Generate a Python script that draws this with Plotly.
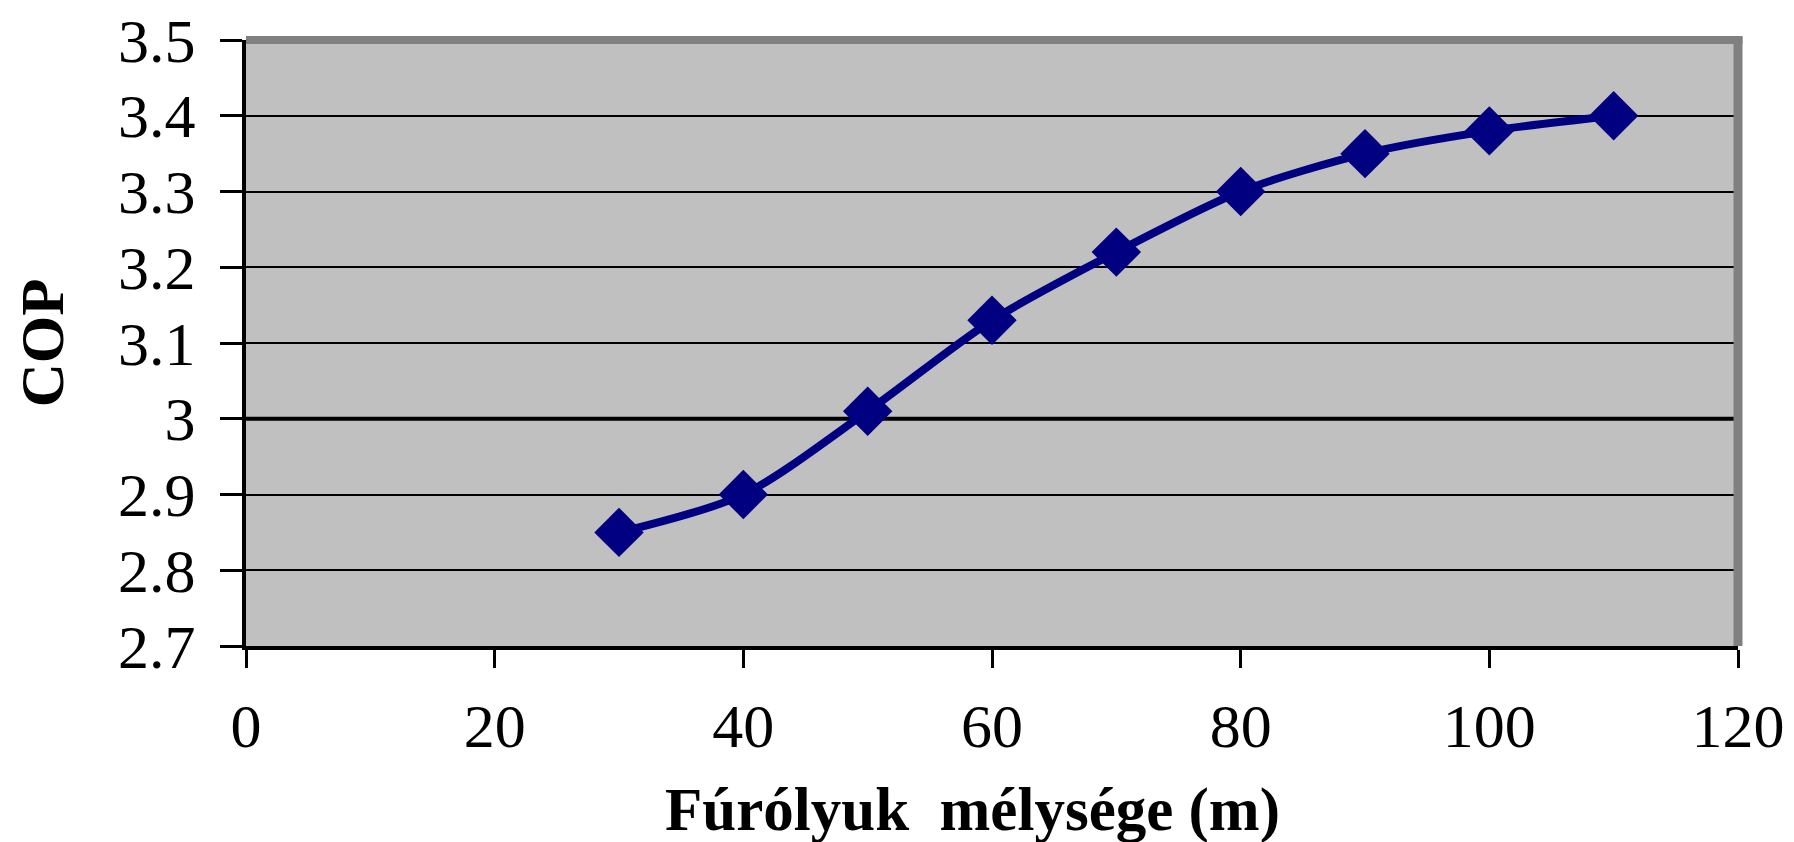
import plotly.graph_objects as go

# Data
depth_m = [30, 40, 50, 60, 70, 80, 90, 100, 110]
cop = [2.85, 2.90, 3.01, 3.13, 3.22, 3.30, 3.35, 3.38, 3.40]

x_tick_vals = [0, 20, 40, 60, 80, 100, 120]
y_tick_vals = [2.7, 2.8, 2.9, 3.0, 3.1, 3.2, 3.3, 3.4, 3.5]
y_tick_text = ["2.7", "2.8", "2.9", "3", "3.1", "3.2", "3.3", "3.4", "3.5"]
x_title = "Fúrólyuk\u00a0\u00a0mélysége (m)"
y_title = "COP"
emphasis_y = 3.0

FONT = "Liberation Serif, Times New Roman, serif"

fig = go.Figure()
fig.add_trace(go.Scatter(
    x=depth_m, y=cop, mode="lines+markers",
    line=dict(color="#000080", width=8, shape="spline", smoothing=0.8),
    marker=dict(symbol="diamond", size=38, color="#000080",
                line=dict(width=0)),
    showlegend=False,
))

fig.add_hline(y=emphasis_y, line_width=4, line_color="black", layer="below")

# gray plot-area border (top and right)
fig.add_shape(type="line", xref="x domain", yref="y domain", x0=0, x1=1.003, y0=1, y1=1,
              line=dict(color="#808080", width=8), layer="above")
fig.add_shape(type="line", xref="x domain", yref="y domain", x0=1, x1=1, y0=0, y1=1.005,
              line=dict(color="#808080", width=9), layer="above")

# x-axis title (slightly left of the plot centre, as in the original)
fig.add_annotation(
    text=x_title, xref="paper", yref="paper", x=0.4866, y=-0.271,
    xanchor="center", yanchor="middle", showarrow=False,
    font=dict(size=61, family=FONT, weight="bold", color="black"),
)

fig.update_layout(
    width=1794, height=842,
    margin=dict(l=246, r=56, t=40, b=196, autoexpand=False),
    paper_bgcolor="white", plot_bgcolor="#C0C0C0",
    font=dict(family=FONT, color="black", size=62),
)
fig.update_xaxes(
    range=[0, 120], tickvals=x_tick_vals, ticks="outside", ticklen=18, tickwidth=3,
    tickcolor="black", showline=True, linecolor="black", linewidth=4,
    showgrid=False, zeroline=False, ticklabelstandoff=5, automargin=False,
    ticklabeloverflow="allow",
    tickfont=dict(size=62, family=FONT),
)
fig.update_yaxes(
    range=[2.7, 3.5], tickvals=y_tick_vals, ticktext=y_tick_text, ticks="outside",
    ticklen=22, tickwidth=2.5, tickcolor="black", showline=True, linecolor="black",
    linewidth=4, showgrid=True, gridcolor="black", gridwidth=2, zeroline=False,
    ticklabelstandoff=12, automargin=False, ticklabeloverflow="allow",
    tickfont=dict(size=62, family=FONT),
    title=dict(text=y_title, font=dict(size=61, family=FONT, weight="bold"), standoff=36),
)

# remove the default 8px page margin so the figure fills the window exactly
fig.write_html("out.html", config={"displayModeBar": False},
               post_script="document.body.style.margin='0';")
